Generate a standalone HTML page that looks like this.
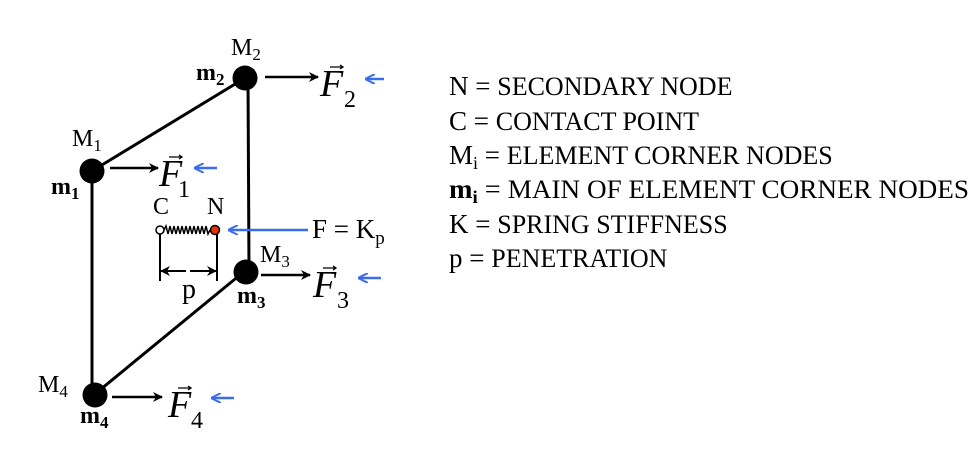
<!DOCTYPE html>
<html><head><meta charset="utf-8"><style>
html,body{margin:0;padding:0;background:#fff;}
svg{display:block;font-family:"Liberation Serif",serif;}
</style></head><body>
<svg width="976" height="471" viewBox="0 0 976 471" xmlns="http://www.w3.org/2000/svg">
<defs>
<marker id="ab" markerWidth="10" markerHeight="10" refX="9" refY="5" orient="auto" markerUnits="userSpaceOnUse"><path d="M0,0 L10,5 L0,10 L3,5 z" fill="#000"/></marker>
<marker id="bl" markerWidth="10" markerHeight="10" refX="9" refY="5" orient="auto" markerUnits="userSpaceOnUse"><path d="M0,0 L10,5 L0,10" fill="none" stroke="#3a6cf0" stroke-width="2"/></marker>
</defs>
<g stroke="#000" stroke-width="3">
<line x1="92" y1="171" x2="245" y2="78"/>
<line x1="248" y1="78" x2="249" y2="270"/>
<line x1="92" y1="171" x2="92" y2="394"/>
<line x1="95" y1="394" x2="246" y2="270"/>
</g>
<g fill="#000">
<circle cx="245" cy="78" r="12.5"/>
<circle cx="92" cy="171" r="12.5"/>
<circle cx="246" cy="272" r="12.5"/>
<circle cx="95" cy="395" r="12.5"/>
</g>
<g stroke="#000" stroke-width="2.5">
<line x1="265" y1="77" x2="318" y2="77" marker-end="url(#ab)"/>
<line x1="110" y1="168" x2="158" y2="168" marker-end="url(#ab)"/>
<line x1="261" y1="275" x2="310" y2="275" marker-end="url(#ab)"/>
<line x1="112" y1="397" x2="162" y2="397" marker-end="url(#ab)"/>
</g>
<g stroke="#3a6cf0" stroke-width="2.5">
<line x1="384" y1="79" x2="366" y2="79" marker-end="url(#bl)"/>
<line x1="217" y1="168" x2="195" y2="168" marker-end="url(#bl)"/>
<line x1="381" y1="278" x2="359" y2="278" marker-end="url(#bl)"/>
<line x1="234" y1="398" x2="212" y2="398" marker-end="url(#bl)"/>
<line x1="308" y1="230" x2="229" y2="230" marker-end="url(#bl)"/>
</g>
<polyline points="164,230 166,226 168,234 170,226 172,234 174,226 176,234 178,226 180,234 182,226 184,234 186,226 188,234 190,226 192,234 194,226 196,234 198,226 200,234 202,226 204,234 206,226 208,234 210,230" fill="none" stroke="#000" stroke-width="1.5"/>
<circle cx="160" cy="230" r="4" fill="#fff" stroke="#000" stroke-width="1.5"/>
<circle cx="215" cy="230" r="4.5" fill="#e8300a" stroke="#000" stroke-width="1.5"/>
<g stroke="#000" stroke-width="2">
<line x1="160" y1="234" x2="160" y2="281"/>
<line x1="217" y1="234" x2="217" y2="281"/>
<line x1="186" y1="271" x2="161" y2="271" marker-end="url(#ab)"/>
<line x1="190" y1="271" x2="216" y2="271" marker-end="url(#ab)"/>
</g>
<g font-size="24">
<text x="231" y="55">M<tspan font-size="17" dy="5">2</tspan></text>
<text x="196" y="80" font-weight="bold">m<tspan font-size="17" dy="5">2</tspan></text>
<text x="72" y="146">M<tspan font-size="17" dy="5">1</tspan></text>
<text x="51" y="194" font-weight="bold">m<tspan font-size="17" dy="5">1</tspan></text>
<text x="260" y="262">M<tspan font-size="17" dy="5">3</tspan></text>
<text x="237" y="303" font-weight="bold">m<tspan font-size="17" dy="5">3</tspan></text>
<text x="38" y="392">M<tspan font-size="17" dy="5">4</tspan></text>
<text x="80" y="423" font-weight="bold">m<tspan font-size="17" dy="5">4</tspan></text>
<text x="153" y="214">C</text>
<text x="207" y="214">N</text>
<text x="182" y="298" font-size="28">p</text>
<text x="312" y="238" font-size="27">F = K<tspan font-size="19" dy="6">p</tspan></text>
</g>
<g font-size="38" font-style="italic">
<text x="320" y="96">F</text><text x="344" y="107" font-size="24" font-style="normal">2</text>
<text x="159" y="186">F</text><text x="178" y="197" font-size="24" font-style="normal">1</text>
<text x="313" y="297">F</text><text x="337" y="308" font-size="24" font-style="normal">3</text>
<text x="168" y="417">F</text><text x="191" y="428" font-size="24" font-style="normal">4</text>
</g>
<g stroke="#000" stroke-width="1.3" fill="none">
<path d="M330,67 h13 m-3,-2 l3,2 l-3,2"/>
<path d="M169,157 h13 m-3,-2 l3,2 l-3,2"/>
<path d="M323,268 h13 m-3,-2 l3,2 l-3,2"/>
<path d="M178,388 h13 m-3,-2 l3,2 l-3,2"/>
</g>
<g font-size="27">
<text x="449" y="95">N = <tspan font-size="26">SECONDARY NODE</tspan></text>
<text x="449" y="130">C = <tspan font-size="26"> CONTACT POINT</tspan></text>
<text x="449" y="164">M<tspan font-size="18" dy="5">i</tspan><tspan dy="-5"> = </tspan><tspan font-size="26"> ELEMENT CORNER NODES</tspan></text>
<text x="449" y="198" textLength="520" lengthAdjust="spacingAndGlyphs"><tspan font-weight="bold">m</tspan><tspan font-size="18" dy="5" font-weight="bold">i</tspan><tspan dy="-5"> = </tspan><tspan font-size="26">MAIN OF ELEMENT CORNER NODES</tspan></text>
<text x="449" y="233">K = <tspan font-size="26"> SPRING STIFFNESS</tspan></text>
<text x="449" y="267">p = <tspan font-size="26">PENETRATION</tspan></text>
</g>
</svg>
</body></html>
